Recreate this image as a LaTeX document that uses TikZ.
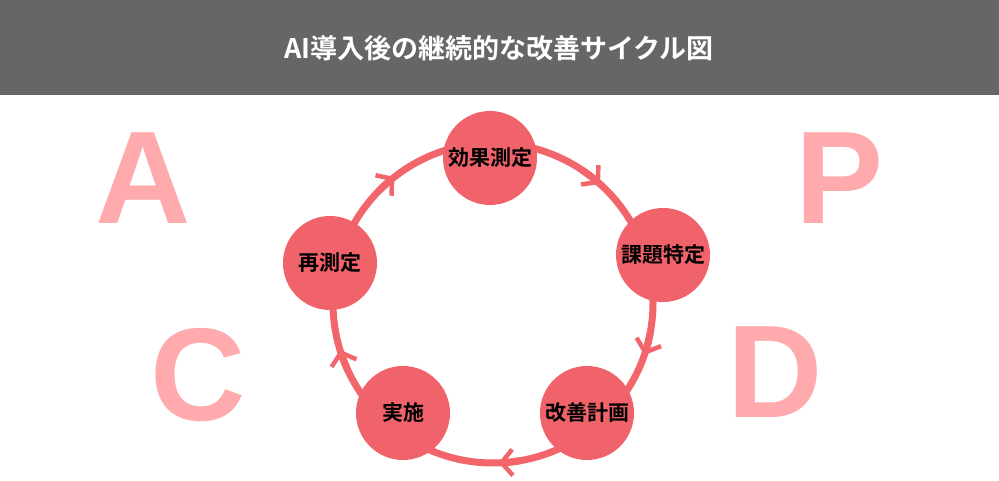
\documentclass[tikz,border=0pt]{standalone}
\usepackage{fontspec}
\setmainfont{Liberation Sans}
\newfontfamily\jp{Noto Sans CJK JP}[BoldFont={Noto Sans CJK JP Bold}]
\usetikzlibrary{arrows.meta}
\definecolor{ring}{HTML}{F2666B}
\definecolor{nodefill}{HTML}{F0636A}
\definecolor{letter}{HTML}{FFAAAD}
\definecolor{head}{HTML}{666666}
\begin{document}
\begin{tikzpicture}[x=1pt,y=1pt,
  stage/.style={circle,fill=nodefill,minimum size=94pt,inner sep=0pt,font=\jp\bfseries\fontsize{21}{21}\selectfont,text=black},
  big/.style={text=letter,font=\bfseries\fontsize{132}{132}\selectfont},
  tip/.style={ring,line width=7pt,-{Straight Barb[length=11pt,width=26pt,line width=4.5pt]}}]
\useasboundingbox (0,0) rectangle (999,480);
\fill[head] (0,385) rectangle (999,480);
\node[text=white,font=\jp\bfseries\fontsize{27}{27}\selectfont] (title) at (499,432) {AI導入後の継続的な改善サイクル図};
\coordinate (c) at (493,177);
\draw[ring,line width=7pt] (c) circle (160);
\foreach \a in {130,50,-17,-86,199}{
  \draw[tip] (c) ++(\a+6:160) arc (\a+6:\a-2:160);
}
\node[big] (A) at (143,302) {A};
\node[big] (P) at (840,302) {P};
\node[big] (C) at (198,105) {C};
\node[big] (D) at (775,108) {D};
\node[stage] (s1) at (490,322) {効果測定};
\node[stage] (s2) at (663,225) {課題特定};
\node[stage] (s3) at (587,67) {改善計画};
\node[stage] (s4) at (403,67) {実施};
\node[stage] (s5) at (330,217) {再測定};
\end{tikzpicture}
\end{document}
